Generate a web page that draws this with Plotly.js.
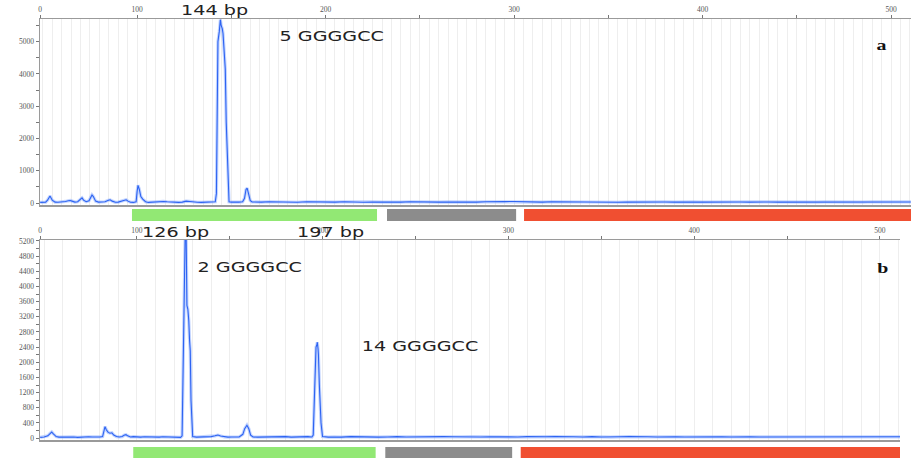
<!DOCTYPE html>
<html>
<head>
<meta charset="utf-8">
<script src="https://cdn.plot.ly/plotly-3.0.1.min.js"></script>
<style>
  html, body { margin: 0; padding: 0; background: #fff; }
  #chart { width: 911px; height: 462px; }
  /* the reference lettering is horizontally stretched */
  #chart text.annotation-text {
    transform-box: fill-box;
    transform-origin: center;
    transform: scaleX(1.42);
  }
</style>
</head>
<body>
<div id="chart"></div>
<script>
// ---------- Panel a: fragment size (bp) and signal (RFU) ----------
const sizeA = [48.6,50,51.5,52.5,53.8,55,56.5,58,60,62,63.5,64.5,65.5,67,68.5,70,70.8,71.6,73,74.5,
  75.5,76.1,76.8,78,79.5,81,83,84.8,85.7,86.8,88.5,90,92,93.3,94.2,95.2,96.5,98,99.5,100,
  100.5,101.2,102,103,104.5,106,108,110,112,114,116,118,120,122,124,126,128,130,132,134,
  136,138,140,141.5,142.1,142.5,142.9,143.6,144.2,144.6,145.2,145.6,146.3,146.8,147.3,147.8,148.3,148.8,150,152,
  154,156,157,157.8,158.4,159.1,160,161,163,166,170,175,180,185,190,195,200,205,210,215,
  220,225,230,235,240,245,250,255,260,265,270,275,280,285,290,295,300,305,310,315,
  320,325,330,335,340,345,350,355,360,365,370,375,380,385,390,395,400,405,410,415,
  420,425,430,435,440,445,450,455,460,465,470,475,480,485,490,495,500,505,510.5];
const rfuA = [20,25,30,90,220,90,30,25,30,50,70,80,60,30,40,120,160,90,40,70,
  180,250,200,60,30,25,40,90,100,60,25,30,60,90,100,60,25,20,40,350,
  550,420,200,120,40,20,30,25,30,50,40,30,25,20,30,60,50,30,25,20,
  30,40,30,40,300,2500,5000,5300,5680,5500,5400,5250,4300,4150,2500,1500,250,40,30,25,
  30,40,150,420,460,300,80,35,25,30,40,30,35,25,40,30,35,30,40,30,
  25,35,30,25,30,40,30,25,30,35,30,25,30,40,35,45,50,40,35,30,
  40,35,30,40,30,35,30,25,30,35,40,30,35,30,40,35,30,35,40,30,
  35,30,40,35,30,30,35,40,30,35,30,40,35,30,40,35,45,40,35];

// ---------- Panel b ----------
const sizeB = [47.9,50,52,53.3,54.1,55,56.5,58,60,62,64,66,68,70,72,74,76,78,80,81.5,
  82.3,82.8,83.5,84.5,85.5,86.5,87.5,89,90.5,92,93.3,94.1,95,96.5,98,100,102,104,106,108,
  110,112,114,116,118,120,122,123.5,124.3,124.8,125.2,125.6,126,126.5,126.9,127.4,127.9,128.3,128.7,129.1,
  129.6,130,132,134,136,138,140,142,143.6,145,147,149,151,153,155,157,158,159.2,160.2,161.2,
  162.5,165,168,171,174,177,180,183,186,189,192,194.2,194.9,195.3,195.6,196,196.4,196.8,197.1,197.5,
  197.7,198.2,198.6,199.1,199.9,201,203,206,210,215,220,225,230,235,240,245,250,255,260,265,
  270,275,280,285,290,295,300,305,310,315,320,325,330,335,340,345,350,355,360,365,
  370,375,380,385,390,395,400,405,410,415,420,425,430,435,440,445,450,455,460,465,
  470,475,480,485,490,495,500,505,510.8];
const rfuB = [20,30,60,130,160,110,40,25,30,25,35,30,20,30,25,35,30,25,30,40,
  200,300,220,150,130,140,80,40,30,40,80,90,60,30,40,30,25,35,30,25,
  30,25,35,30,25,20,25,20,60,1850,2800,4800,5500,5300,3500,3400,3100,2600,2300,1000,
  200,40,25,30,25,30,40,60,80,55,30,25,30,25,30,100,250,340,250,80,
  30,25,30,25,35,30,40,25,35,30,40,30,80,700,1400,2000,2400,2450,2530,2350,
  2200,1400,800,400,40,30,25,30,25,40,30,35,25,30,40,30,35,30,45,40,
  35,30,40,30,35,30,25,30,40,30,35,40,30,35,30,40,30,25,35,40,
  30,35,30,40,35,30,35,40,30,35,30,40,35,30,30,35,40,30,35,30,
  40,35,30,35,40,30,35,40,35];

// ---------- Size-range bars under each panel (bp) ----------
const binStartA = [97.3, 232.6, 305.3];
const binEndA   = [227.3, 301.1, 512];
const binStartB = [98.0, 233.7, 306.6];
const binEndB   = [228.5, 302.0, 514];
const binColors = ['#92e874', '#8c8c8c', '#f04f31'];

// ---------- Axis ticks ----------
const xTickValsA = [48.6,100,150,200,250,300,350,400,450,500];
const xTickValsB = [47.9,100,150,200,250,300,350,400,450,500];
const xTickText  = ['0','100','','200','','300','','400','','500'];
const yTickValsA = [0,500,1000,1500,2000,2500,3000,3500,4000,4500,5000,5500];
const yTickTextA = ['0','','1000','','2000','','3000','','4000','','5000',''];
const yTickValsB = [0,200,400,600,800,1000,1200,1400,1600,1800,2000,2200,2400,2600,2800,3000,3200,3400,3600,3800,4000,4200,4400,4600,4800,5000,5200];
const yTickTextB = yTickValsB.map(v => (v % 400 === 0 ? String(v) : ''));

const W = 911, H = 462;
const py = p => 1 - p / H;
const px = p => p / W;

const halo = 'rgba(120,160,255,0.45)';
const core = '#2d63f2';

const traces = [
  {x: sizeA, y: rfuA, xaxis: 'x', yaxis: 'y', mode: 'lines', line: {color: halo, width: 3.2}, hoverinfo: 'skip', showlegend: false},
  {x: sizeA, y: rfuA, xaxis: 'x', yaxis: 'y', mode: 'lines', line: {color: core, width: 1.1}, hoverinfo: 'skip', showlegend: false},
  {x: sizeB, y: rfuB, xaxis: 'x2', yaxis: 'y2', mode: 'lines', line: {color: halo, width: 3.2}, hoverinfo: 'skip', showlegend: false},
  {x: sizeB, y: rfuB, xaxis: 'x2', yaxis: 'y2', mode: 'lines', line: {color: core, width: 1.1}, hoverinfo: 'skip', showlegend: false}
];

const tickFont = {family: 'Liberation Serif, serif', size: 7.5, color: '#555'};

function xAxis(vals, range, domain, anchor, minorDtick) {
  return {
    domain: domain, range: range, anchor: anchor, side: 'top',
    tickmode: 'array', tickvals: vals, ticktext: xTickText,
    ticks: 'outside', ticklen: 3, tickcolor: '#777', tickwidth: 1,
    tickfont: tickFont,
    showline: true, linecolor: '#9a9a9a', linewidth: 1.5, mirror: true,
    showgrid: false, zeroline: false,
    minor: {tickmode: 'linear', tick0: 0, dtick: minorDtick, showgrid: true, gridcolor: '#eeeeee', gridwidth: 1, ticks: ''},
    fixedrange: true
  };
}
function yAxis(vals, text, range, domain, anchor) {
  return {
    domain: domain, range: range, anchor: anchor,
    tickmode: 'array', tickvals: vals, ticktext: text,
    ticks: 'outside', ticklen: 3, tickcolor: '#777', tickwidth: 1,
    tickfont: tickFont,
    showline: true, linecolor: '#9a9a9a', linewidth: 1.5,
    showgrid: false, zeroline: false, fixedrange: true
  };
}

const shapes = [];
binStartA.forEach((s, i) => shapes.push({type: 'rect', xref: 'x', yref: 'paper', x0: s, x1: binEndA[i], y0: py(221), y1: py(209), fillcolor: binColors[i], line: {width: 0}}));
binStartB.forEach((s, i) => shapes.push({type: 'rect', xref: 'x2', yref: 'paper', x0: s, x1: binEndB[i], y0: py(458), y1: py(447), fillcolor: binColors[i], line: {width: 0}}));

const lblFont = {family: 'DejaVu Sans, sans-serif', size: 13.5, color: '#222'};
const letterFont = {family: 'Liberation Serif, serif', size: 14, color: '#111'};
const annotations = [
  {text: '144 bp', xref: 'paper', yref: 'paper', x: px(214), y: py(10), xanchor: 'center', yanchor: 'middle', showarrow: false, font: lblFont},
  {text: '5 GGGGCC', xref: 'paper', yref: 'paper', x: px(332), y: py(36), xanchor: 'center', yanchor: 'middle', showarrow: false, font: lblFont},
  {text: '<b>a</b>', xref: 'paper', yref: 'paper', x: px(881), y: py(46), xanchor: 'center', yanchor: 'middle', showarrow: false, font: letterFont},
  {text: '126 bp', xref: 'paper', yref: 'paper', x: px(175), y: py(232), xanchor: 'center', yanchor: 'middle', showarrow: false, font: lblFont},
  {text: '197 bp', xref: 'paper', yref: 'paper', x: px(330), y: py(232), xanchor: 'center', yanchor: 'middle', showarrow: false, font: lblFont},
  {text: '2 GGGGCC', xref: 'paper', yref: 'paper', x: px(250), y: py(267), xanchor: 'center', yanchor: 'middle', showarrow: false, font: lblFont},
  {text: '14 GGGGCC', xref: 'paper', yref: 'paper', x: px(420), y: py(346), xanchor: 'center', yanchor: 'middle', showarrow: false, font: lblFont},
  {text: '<b>b</b>', xref: 'paper', yref: 'paper', x: px(883), y: py(268), xanchor: 'center', yanchor: 'middle', showarrow: false, font: letterFont}
];

const layout = {
  width: W, height: H, autosize: false,
  margin: {l: 0, r: 0, t: 0, b: 0, pad: 0},
  paper_bgcolor: '#fff', plot_bgcolor: '#fff',
  showlegend: false,
  xaxis:  xAxis(xTickValsA, [48.5, 510.6], [px(40), 1], 'y', 5),
  yaxis:  yAxis(yTickValsA, yTickTextA, [-60, 5700], [py(205), py(19)], 'x'),
  xaxis2: xAxis(xTickValsB, [47.8, 510.8], [px(40), px(900)], 'y2', 10),
  yaxis2: yAxis(yTickValsB, yTickTextB, [-50, 5226], [py(440), py(240)], 'x2'),
  shapes: shapes,
  annotations: annotations
};

Plotly.newPlot('chart', traces, layout, {staticPlot: true, displayModeBar: false});
</script>
</body>
</html>
